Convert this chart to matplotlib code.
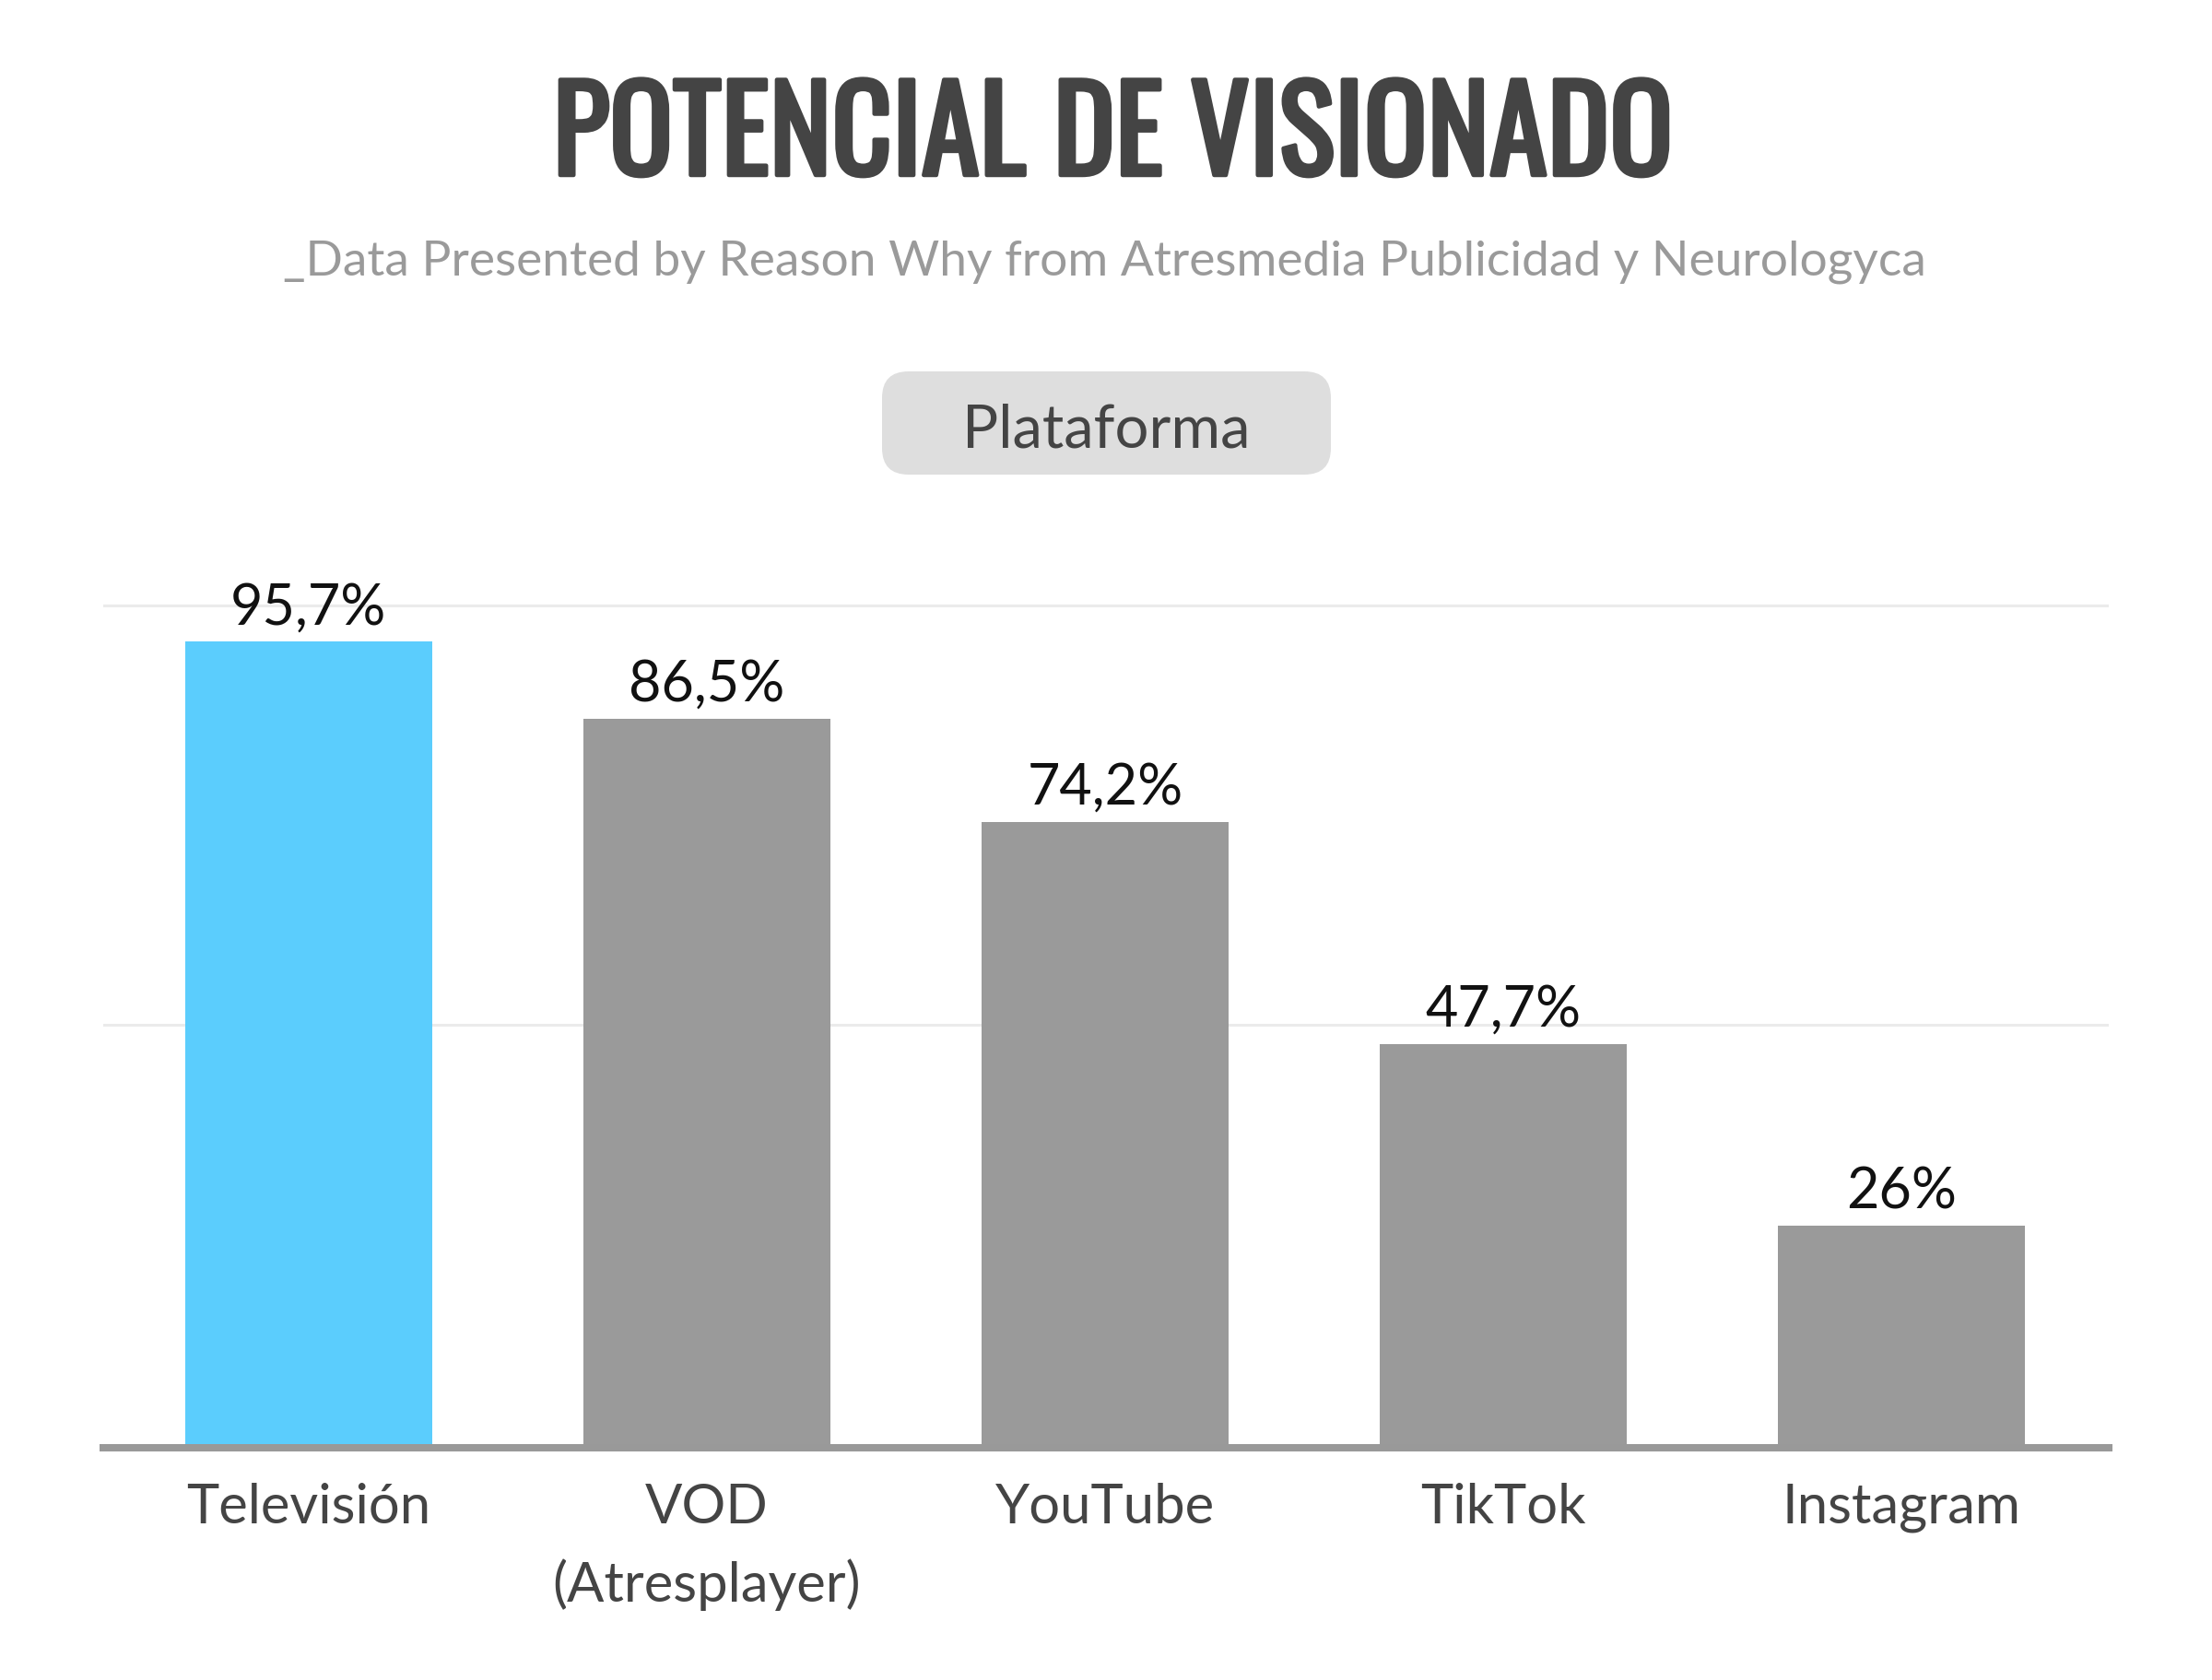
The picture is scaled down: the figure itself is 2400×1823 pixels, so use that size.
import os
import matplotlib
matplotlib.use("Agg")
import matplotlib.pyplot as plt
import matplotlib.patheffects as pe
from matplotlib import font_manager
from matplotlib.font_manager import FontProperties
from matplotlib.patches import FancyBboxPatch

categories = ["Televisión", "VOD\n(Atresplayer)", "YouTube", "TikTok", "Instagram"]
values = [95.7, 86.5, 74.2, 47.7, 26.0]
value_labels = ["95,7%", "86,5%", "74,2%", "47,7%", "26%"]
bar_colors = ["#5bcdfd", "#9a9a9a", "#9a9a9a", "#9a9a9a", "#9a9a9a"]
grid_ticks = [50, 100]

# look for a narrow bold face for the title
prefs = ["oswald-bold", "oswald", "robotocondensed-bold", "notosans-extracondensedbold",
         "notosans-condensedbold", "opensans-condbold", "liberationsansnarrow-bold",
         "dejavusanscondensed-bold"]
files = {os.path.basename(f.fname).lower(): f.fname for f in font_manager.fontManager.ttflist}
title_prop = None
for p in prefs:
    hits = [k for k in files if k.startswith(p)]
    if hits:
        title_prop = FontProperties(fname=files[sorted(hits)[0]])
        break
if title_prop is None:
    title_prop = FontProperties(family="DejaVu Sans", weight="bold")

names = {f.name for f in font_manager.fontManager.ttflist}
body_font = "Lato"
light_font = "Lato Light" if "Lato Light" in names else "Lato"

fig = plt.figure(figsize=(24, 18.24), dpi=100)
fig.patch.set_facecolor("white")

ax = fig.add_axes([112 / 2400, 1 - 1568 / 1824, (2288 - 112) / 2400, 946.4 / 1824])
ax.bar(range(len(values)), values, width=0.62, color=bar_colors, zorder=3)
ax.set_xlim(-0.515, 4.52)
ax.set_ylim(0, 104)

for y in grid_ticks:
    ax.axhline(y, color="#ebebeb", lw=2.2, zorder=1)

for i, (v, lab) in enumerate(zip(values, value_labels)):
    ax.annotate(lab, (i, v), xytext=(0, 14.4), textcoords="offset points",
                ha="center", va="baseline", fontsize=44, color="#111111",
                family=body_font)

# category names, one line at a time (85 px between baselines)
for i, cat in enumerate(categories):
    for k, line in enumerate(cat.split("\n")):
        ax.annotate(line, (i, 0), xytext=(0, -61.2 - 61.2 * k), textcoords="offset points",
                    ha="center", va="baseline", fontsize=43, color="#444444",
                    family=body_font, annotation_clip=False)

ax.set_xticks([])
ax.set_yticks([])
for s in ["top", "right", "left"]:
    ax.spines[s].set_visible(False)
ax.spines["bottom"].set_color("#999999")
ax.spines["bottom"].set_linewidth(5.76)
ax.spines["bottom"].set_position(("outward", 2.88))

# title block
title = fig.text(0.503, 1 - 191 / 1824, "POTENCIAL DE VISIONADO", ha="center",
                 va="baseline", color="#444444", fontproperties=title_prop,
                 path_effects=[pe.withStroke(linewidth=3.2, foreground="#444444")])
title.set_fontsize(100)
r = fig.canvas.get_renderer()
w = title.get_window_extent(renderer=r).width
title.set_fontsize(min(100, 100 * 1215 / w))

fig.text(0.4995, 1 - 298 / 1824, "_Data Presented by Reason Why from Atresmedia Publicidad y Neurologyca",
         ha="center", va="baseline", fontsize=38.3, color="#9a9a9a", family=light_font)

box = FancyBboxPatch((957 / 2400, 1 - 516 / 1824), (1444 - 957) / 2400, (516 - 404) / 1824,
                     boxstyle="round,pad=0,rounding_size=0.012", transform=fig.transFigure,
                     facecolor="#dedede", edgecolor="none", mutation_aspect=2400 / 1824)
fig.patches.append(box)
fig.text(0.5, 1 - 485 / 1824, "Plataforma", ha="center", va="baseline",
         fontsize=47, color="#444444", family=light_font)

fig.savefig("out.png", dpi=100, facecolor="white")
